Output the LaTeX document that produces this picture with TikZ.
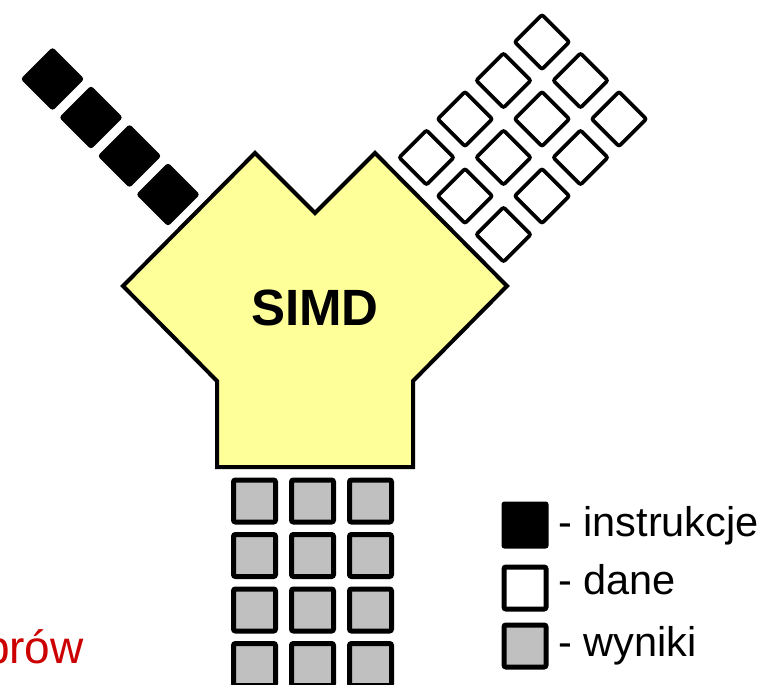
\documentclass[tikz,border=0pt]{standalone}
\usepackage{fontspec}
\setmainfont{Liberation Sans}
\definecolor{simdyellow}{HTML}{FFFF99}
\definecolor{resgrey}{HTML}{C0C0C0}
\definecolor{redtxt}{HTML}{CC0000}
\begin{document}
\begin{tikzpicture}[x=1pt,y=-1pt,
  sqbase/.style={shape=rectangle, rotate=45, inner sep=0pt, outer sep=0pt, rounded corners=2pt},
  instr/.style={sqbase, draw=black, fill=black, line width=2pt, minimum size=43pt},
  dat/.style={sqbase, draw=black, fill=white, line width=3.7pt, minimum size=38.5pt},
  res/.style={shape=rectangle, inner sep=0pt, outer sep=0pt, rounded corners=2pt, draw=black, fill=resgrey, line width=5pt, minimum size=42pt},
  legblack/.style={shape=rectangle, inner sep=0pt, rounded corners=2pt, draw=black, fill=black, line width=2pt, minimum size=45pt},
  legwhite/.style={shape=rectangle, inner sep=0pt, rounded corners=2pt, draw=black, fill=white, line width=5pt, minimum size=42pt},
  leggrey/.style={shape=rectangle, inner sep=0pt, rounded corners=2pt, draw=black, fill=resgrey, line width=5pt, minimum size=42pt},
  legtext/.style={anchor=base west, inner sep=0pt, font=\fontsize{41.5}{46}\selectfont},
  simdshape/.style={draw=black, fill=simdyellow, line width=4pt, line join=miter}
]
\useasboundingbox (0,0) rectangle (771,685);
\clip (0,0) rectangle (771,685);
% instructions
\foreach \k in {0,...,3}
  \node[instr] (i\k) at ({52.5+38.5*\k},{79+38.5*\k}) {};
% data
\foreach \i in {0,1,2}
  \foreach \j in {0,...,3}
    \node[dat] (d\i\j) at ({542+38.5*\i-38.5*\j},{42+38.5*\i+38.5*\j}) {};
% SIMD body
\draw[simdshape] (255,153) -- (315,213) -- (375,153) -- (507,286) -- (413,381) -- (413,467) -- (217,467) -- (217,381) -- (123,286) -- cycle;
\node[font=\bfseries\fontsize{51}{56}\selectfont] (simd) at (315,308) {SIMD};
% results
\foreach \c in {0,1,2}
  \foreach \r in {0,...,3}
    \node[res] (r\c\r) at ({254.5+58*\c},{501+54.5*\r}) {};
% legend
\node[legblack] (lb) at (525,525) {};
\node[legwhite] (lw) at (525,588) {};
\node[leggrey] (lg) at (525,646) {};
\node[legtext] (tb) at (558,536) {- instrukcje};
\node[legtext] (tw) at (558,594) {- dane};
\node[legtext] (tg) at (558,656) {- wyniki};
% red text (cut at the left edge, as in the reference)
\node[anchor=base east, inner sep=0pt, text=redtxt, font=\fontsize{46}{50}\selectfont] (red) at (84,663) {prów};
\end{tikzpicture}
\end{document}
